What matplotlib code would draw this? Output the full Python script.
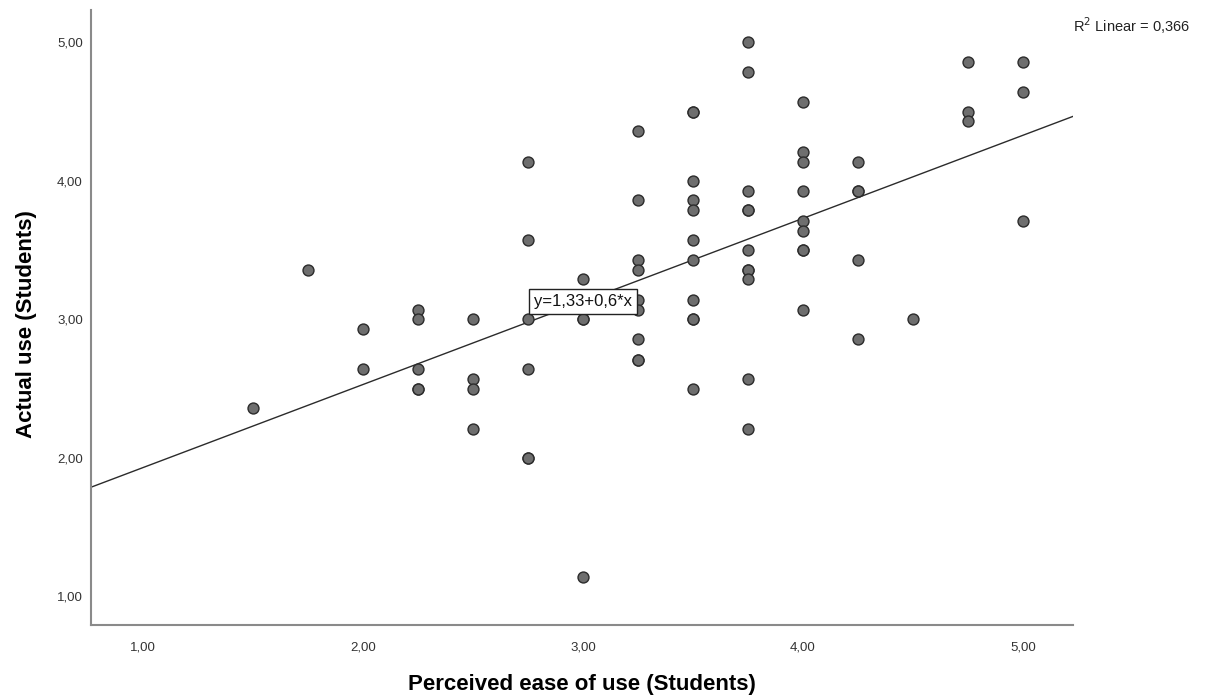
import matplotlib.pyplot as plt
import numpy as np

plt.rcParams['font.family'] = ['Liberation Sans', 'DejaVu Sans']

# Perceived ease of use (x) and actual use (y), one entry per student
ease = [1.5, 1.75,
        2.0, 2.0,
        2.25, 2.25, 2.25, 2.25, 2.25,
        2.5, 2.5, 2.5, 2.5,
        2.75, 2.75, 2.75, 2.75, 2.75, 2.75,
        3.0, 3.0, 3.0, 3.0,
        3.25, 3.25, 3.25, 3.25, 3.25, 3.25, 3.25, 3.25, 3.25,
        3.5, 3.5, 3.5, 3.5, 3.5, 3.5, 3.5, 3.5, 3.5, 3.5, 3.5,
        3.75, 3.75, 3.75, 3.75, 3.75, 3.75, 3.75, 3.75, 3.75, 3.75, 3.75,
        4.0, 4.0, 4.0, 4.0, 4.0, 4.0, 4.0, 4.0, 4.0,
        4.25, 4.25, 4.25, 4.25, 4.25,
        4.5,
        4.75, 4.75, 4.75,
        5.0, 5.0, 5.0]
use = [2.36, 3.36,
       2.93, 2.64,
       3.07, 3.00, 2.64, 2.50, 2.50,
       3.00, 2.57, 2.50, 2.21,
       4.14, 3.57, 3.00, 2.64, 2.00, 2.00,
       3.29, 3.00, 3.00, 1.14,
       4.36, 3.86, 3.43, 3.36, 3.14, 3.07, 2.86, 2.71, 2.71,
       4.50, 4.50, 4.00, 3.86, 3.79, 3.57, 3.43, 3.14, 3.00, 3.00, 2.50,
       5.00, 4.79, 3.93, 3.79, 3.79, 3.50, 3.36, 3.36, 3.29, 2.57, 2.21,
       4.57, 4.21, 4.14, 3.93, 3.71, 3.64, 3.50, 3.50, 3.07,
       4.14, 3.93, 3.93, 3.43, 2.86,
       3.00,
       4.86, 4.50, 4.43,
       4.86, 4.64, 3.71]

intercept = 1.33
slope = 0.6
r2 = 0.366

ticks = [1, 2, 3, 4, 5]
tick_labels = ['1,00', '2,00', '3,00', '4,00', '5,00']

fig = plt.figure(figsize=(12.06, 6.99), dpi=100)
ax = fig.add_axes([0.0755, 0.106, 0.8142, 0.8798])

xlim = (0.764, 5.227)
ylim = (0.794, 5.235)
ax.set_xlim(xlim)
ax.set_ylim(ylim)

ax.scatter(ease, use, s=62, facecolor='#6e6e6e', edgecolor='#2b2b2b',
           linewidth=1.0, zorder=3)

lx = np.array(xlim)
ax.plot(lx, intercept + slope * lx, color='#2b2b2b', linewidth=1.0, zorder=2)

ax.text(3.0, intercept + slope * 3.0, 'y=1,33+0,6*x', fontsize=12,
        ha='center', va='center', color='#111111', zorder=4,
        bbox=dict(boxstyle='square,pad=0.3', facecolor='white',
                  edgecolor='#222222', linewidth=1.0))

fig.text(0.8897, 0.964, 'R$^2$ Linear = 0,366', fontsize=10.5, color='#222222',
         ha='left', va='center')

for side in ['top', 'right']:
    ax.spines[side].set_visible(False)
for side in ['left', 'bottom']:
    ax.spines[side].set_color('#8a8a8a')
    ax.spines[side].set_linewidth(1.5)

ax.set_xticks(ticks)
ax.set_xticklabels(tick_labels)
ax.set_yticks(ticks)
ax.set_yticklabels(tick_labels)
ax.tick_params(axis='both', length=0, labelsize=9.5, labelcolor='#333333')
ax.tick_params(axis='x', pad=12)
ax.tick_params(axis='y', pad=6)

ax.set_xlabel('Perceived ease of use (Students)', fontsize=16,
              fontweight='bold', labelpad=15)
ax.set_ylabel('Actual use (Students)', fontsize=16, fontweight='bold')
ax.yaxis.set_label_coords(-0.055, 0.489)

fig.savefig('out.png', dpi=100, facecolor='white')
